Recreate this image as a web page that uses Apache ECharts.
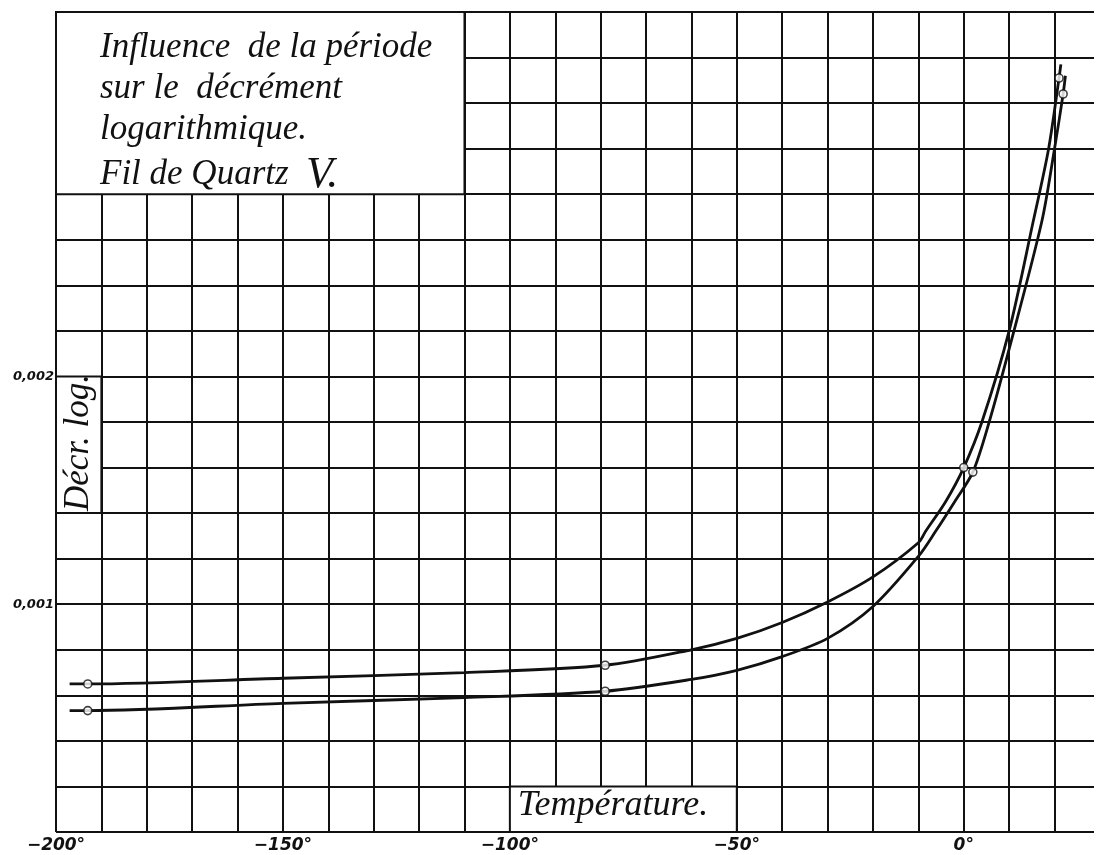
<!DOCTYPE html>
<html><head><meta charset="utf-8">
<script src="https://cdn.jsdelivr.net/npm/echarts@6/dist/echarts.min.js"></script>
<style>html,body{margin:0;padding:0;background:#fff}#c{width:1097px;height:855px}</style>
</head><body><div id="c"></div>
<script>
// ---- data ----
const xLabelTicks = [-200, -150, -100, -50, 0];
const yLabelTicks = [0.001, 0.002];
// curve A (upper / left curve): traced points
const curveA_T = [-197, -193, -150, -110, -79, -60, -50, -40, -30, -20, -10, -8.4, -4, 0, 4, 10, 15.3, 18.7, 21, 21.4];
const curveA_D = [0.00065, 0.00065, 0.000675, 0.0007, 0.000732, 0.0008, 0.00085, 0.00092, 0.00101, 0.00112, 0.00127, 0.00132, 0.00145, 0.0016, 0.0018, 0.0022, 0.00268, 0.0030, 0.00331, 0.00337];
// curve B (lower / right curve)
const curveB_T = [-197, -193, -150, -110, -79, -60, -50, -40, -30, -20, -10, -6.2, -2, 2, 5.6, 10, 17.2, 20, 21.9, 22.4];
const curveB_D = [0.000533, 0.000533, 0.000565, 0.00059, 0.000618, 0.00067, 0.00071, 0.00077, 0.00085, 0.00099, 0.00121, 0.00132, 0.00145, 0.00158, 0.0018, 0.00212, 0.00268, 0.0030, 0.00324, 0.00332];
// measured points (open circles)
const markA_T = [-193, -79, 0, 21];
const markA_D = [0.00065, 0.000732, 0.0016, 0.00331];
const markB_T = [-193, -79, 2, 21.9];
const markB_D = [0.000533, 0.000618, 0.00158, 0.00324];
const titleLines = ['Influence  de la période', 'sur le  décrément', 'logarithmique.', 'Fil de Quartz  '];
const yName = 'Décr. log.';
const xName = 'Température.';

const zip = (a, b) => a.map((v, i) => [v, b[i]]);
const chart = echarts.init(document.getElementById('c'), null, {renderer: 'canvas'});
const ink = '#111';
const serif = '"Liberation Serif", "DejaVu Serif", serif';
const sans = '"DejaVu Sans", "Liberation Sans", sans-serif';

const option = {
  animation: false,
  backgroundColor: '#fff',
  grid: {left: 56, right: 0, top: 12, bottom: 23, containLabel: false},
  xAxis: {
    type: 'value', min: -200, max: 28.7, interval: 10,
    axisLine: {show: false}, axisTick: {show: false},
    splitLine: {show: true, showMaxLine: false, lineStyle: {color: ink, width: 2}},
    axisLabel: {
      show: true, margin: 5, fontFamily: sans, fontStyle: 'italic', fontWeight: 'bold', fontSize: 17, color: ink,
      formatter: v => xLabelTicks.includes(v) ? (v < 0 ? '\u2212' + Math.abs(v) : v) + '°' : ''
    }
  },
  yAxis: {
    type: 'value', min: 0, max: 0.0036, interval: 0.0002,
    axisLine: {show: false}, axisTick: {show: false},
    splitLine: {show: true, lineStyle: {color: ink, width: 2}},
    axisLabel: {
      show: true, margin: 2, fontFamily: sans, fontStyle: 'italic', fontWeight: 'bold', fontSize: 13, color: ink,
      verticalAlign: 'middle', padding: [0, 0, 5, 0],
      formatter: v => yLabelTicks.some(t => Math.abs(t - v) < 1e-9) ? v.toFixed(3).replace('.', ',') : ''
    }
  },
  series: [
    {
      type: 'line', data: zip(curveA_T, curveA_D), smooth: 0.3, showSymbol: false,
      lineStyle: {color: ink, width: 2.8}, z: 5,
      markArea: {
        silent: true,
        itemStyle: {color: '#fff', borderColor: ink, borderWidth: 2},
        data: [
          [{coord: [-200, 0.0036]}, {coord: [-110, 0.0028]}],
          [{coord: [-200, 0.0020]}, {coord: [-190, 0.0014]}],
          [{coord: [-100, 0.0002]}, {coord: [-50, 0]}]
        ]
      }
    },
    {
      type: 'line', data: zip(curveB_T, curveB_D), smooth: 0.3, showSymbol: false,
      lineStyle: {color: ink, width: 2.8}, z: 5
    },
    {
      type: 'scatter', data: zip(markA_T, markA_D).concat(zip(markB_T, markB_D)),
      symbol: 'circle', symbolSize: 8, z: 6,
      itemStyle: {color: '#fff', borderColor: ink, borderWidth: 1.6}
    }
  ]
};
chart.setOption(option);

function place() {
  const p = (x, y) => chart.convertToPixel({gridIndex: 0}, [x, y]);
  const tl = p(-200, 0.0036);
  const yc = p(-195, 0.00171);
  const xl = p(-100, 0);
  const lines = titleLines.map((s, i) => ({
    type: 'text', z: 100, left: tl[0] + 44, top: tl[1] + 18 + i * 41,
    style: {
      text: i === 3 ? '{a|' + s + '}{b|V.}' : s,
      font: 'italic 35px ' + serif, fill: ink,
      rich: {a: {font: 'italic 35px ' + serif, fill: ink}, b: {font: 'italic 44px ' + serif, fill: ink}}
    }
  }));
  chart.setOption({
    graphic: lines.concat([
      {type: 'text', z: 100, x: yc[0], y: yc[1], rotation: Math.PI / 2,
        style: {text: yName, font: 'italic 35px ' + serif, fill: ink, align: 'center', verticalAlign: 'middle'}},
      {type: 'text', z: 100, left: xl[0] + 8, top: xl[1] - 44,
        style: {text: xName, font: 'italic 36px ' + serif, fill: ink}}
    ])
  });
}
place();
</script></body></html>
